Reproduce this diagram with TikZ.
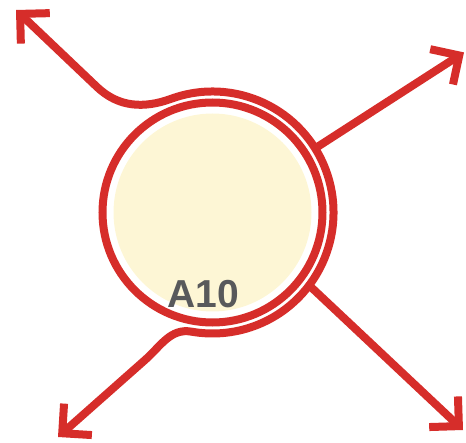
\documentclass[tikz,border=0pt]{standalone}
\usepackage{fontspec}
\setmainfont{Liberation Sans}
\usetikzlibrary{arrows.meta}
\definecolor{ringred}{HTML}{D62D2A}
\definecolor{diskyellow}{HTML}{FDF6D5}
\definecolor{labelgray}{HTML}{58595B}

\begin{document}
\begin{tikzpicture}[x=1pt, y=1pt, >={Straight Barb[length=21pt,width=42pt]}, line width=8pt]
\useasboundingbox (0,0) rectangle (466,442);
\fill[diskyellow] (212.5,229.5) circle (99);
\draw[ringred] (212.5,229.5) circle (110);
\node[circle, minimum size=242pt, inner sep=0pt, outer sep=0pt] (ring) at (212.5,229.5) {};
\node[font=\fontsize{39}{40}\selectfont\bfseries, text=labelgray, anchor=base, inner sep=0pt] (lbl) at (203,134) {A10};

\coordinate (nw) at (16,432);
\coordinate (nwbend) at (97,355);
\coordinate (swbend) at (145,82);
\coordinate (sw) at (58,5);
\coordinate (ne) at (464,389.6);
\coordinate (se) at (463,12);

\draw[<->, ringred] (nw) -- (nwbend) to[out=-43.5,in=200] (ring.110) arc[start angle=110, end angle=-100, radius=121] to[out=170,in=41.5] (swbend) -- (sw);
\draw[->, ringred] (ring.32.5) -- (ne);
\draw[->, ringred] (ring.-37.5) -- (se);
\end{tikzpicture}
\end{document}
